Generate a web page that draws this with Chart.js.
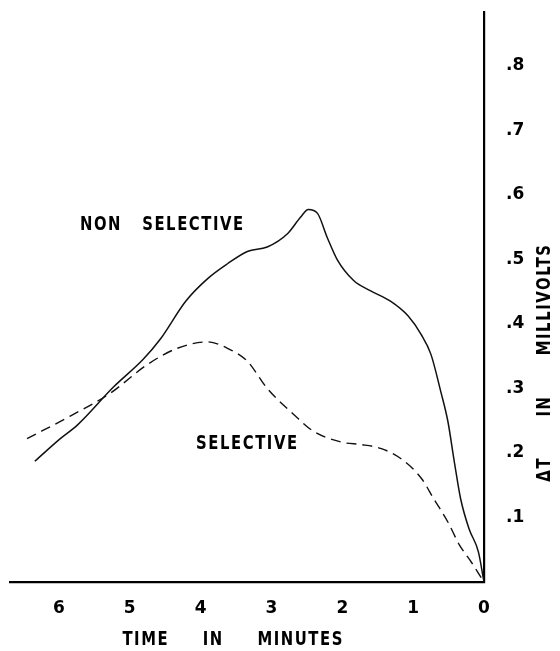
<!DOCTYPE html>
<html>
<head>
<meta charset="utf-8">
<script src="https://cdn.jsdelivr.net/npm/chart.js@4"></script>
<style>
  html, body { margin: 0; padding: 0; background: #fff; }
  #wrap { width: 560px; height: 651px; }
</style>
</head>
<body>
<div id="wrap"><canvas id="tempChart"></canvas></div>
<script>
// time before the end of the run, minutes (axis runs 6 -> 0)
const nonSelTime = [6.34, 5.98, 5.74, 5.23, 4.81, 4.57, 4.21, 3.90, 3.62, 3.34, 3.06, 2.77, 2.59, 2.48, 2.35, 2.21, 2.07, 1.84, 1.60, 1.32, 1.07, 0.89, 0.75, 0.61, 0.51, 0.42, 0.33, 0.21, 0.08, 0];
const nonSelValues = [0.187, 0.222, 0.243, 0.302, 0.345, 0.376, 0.435, 0.470, 0.493, 0.512, 0.519, 0.540, 0.565, 0.577, 0.571, 0.533, 0.499, 0.467, 0.451, 0.435, 0.412, 0.384, 0.353, 0.295, 0.249, 0.187, 0.129, 0.082, 0.047, 0];

const selTime = [6.45, 5.84, 5.28, 4.75, 4.33, 3.90, 3.62, 3.34, 3.06, 2.69, 2.40, 1.98, 1.74, 1.46, 1.17, 0.88, 0.71, 0.51, 0.35, 0.18, 0];
const selValues = [0.222, 0.257, 0.292, 0.337, 0.362, 0.372, 0.362, 0.342, 0.300, 0.260, 0.233, 0.216, 0.213, 0.207, 0.191, 0.160, 0.129, 0.093, 0.058, 0.031, 0];

const xTicks = [6, 5, 4, 3, 2, 1, 0];
const yTicks = [0.1, 0.2, 0.3, 0.4, 0.5, 0.6, 0.7, 0.8];

const FONT = "'DejaVu Sans', sans-serif";

const toPoints = (xs, ys) => xs.map((x, i) => ({ x: x, y: ys[i] }));

// narrow bold lettering like the stencil text of the original
function drawNarrow(ctx, text, x, y, angle) {
  ctx.save();
  ctx.translate(x, y);
  if (angle) ctx.rotate(angle);
  ctx.scale(0.78, 1);
  ctx.fillText(text, 0, 0);
  ctx.restore();
}

const labelPlugin = {
  id: "labels",
  afterDraw(chart) {
    const { ctx, scales: { x, y }, chartArea } = chart;
    ctx.save();
    ctx.fillStyle = "#000";
    ctx.font = "bold 19px " + FONT;
    ctx.letterSpacing = "2px";
    ctx.textAlign = "center";
    ctx.textBaseline = "middle";
    drawNarrow(ctx, "NON   SELECTIVE", x.getPixelForValue(4.54), y.getPixelForValue(0.553));
    drawNarrow(ctx, "SELECTIVE", x.getPixelForValue(3.34), y.getPixelForValue(0.213));
    drawNarrow(ctx, "TIME     IN     MINUTES", x.getPixelForValue(3.54), 640);
    drawNarrow(ctx, "ΔT      IN      MILLIVOLTS", chartArea.right + 61, y.getPixelForValue(0.34), -Math.PI / 2);
    ctx.restore();
  },
};

new Chart(document.getElementById("tempChart"), {
  type: "line",
  data: {
    datasets: [
      {
        label: "Non selective",
        data: toPoints(nonSelTime, nonSelValues),
        borderColor: "#111",
        borderWidth: 1.5,
        pointRadius: 0,
        cubicInterpolationMode: "monotone",
        fill: false,
      },
      {
        label: "Selective",
        data: toPoints(selTime, selValues),
        borderColor: "#111",
        borderWidth: 1.4,
        borderDash: [10, 6],
        pointRadius: 0,
        cubicInterpolationMode: "monotone",
        fill: false,
      },
    ],
  },
  options: {
    responsive: true,
    maintainAspectRatio: false,
    animation: false,
    layout: { padding: { left: 10, top: 12, right: 0, bottom: 0 } },
    plugins: { legend: { display: false }, tooltip: { enabled: false } },
    scales: {
      x: {
        type: "linear",
        reverse: true,
        min: 0,
        max: 6.69,
        afterFit: (s) => { s.height = 69; s.paddingLeft = 0; s.paddingRight = 0; },
        afterBuildTicks: (s) => { s.ticks = xTicks.map((v) => ({ value: v })); },
        grid: { display: false },
        border: { display: true, color: "#000", width: 2.2 },
        ticks: {
          padding: 8,
          color: "#000",
          font: { family: FONT, size: 17, weight: "bold" },
          callback: (v) => String(v),
        },
      },
      y: {
        type: "linear",
        position: "right",
        min: 0,
        max: 0.883,
        afterFit: (s) => { s.width = 76; s.paddingTop = 0; s.paddingBottom = 0; },
        afterBuildTicks: (s) => { s.ticks = yTicks.map((v) => ({ value: v })); },
        grid: { display: false },
        border: { display: true, color: "#000", width: 2.2 },
        ticks: {
          padding: 14,
          color: "#000",
          font: { family: FONT, size: 17, weight: "bold" },
          callback: (v) => "." + Math.round(v * 10),
        },
      },
    },
  },
  plugins: [labelPlugin],
});
</script>
</body>
</html>
